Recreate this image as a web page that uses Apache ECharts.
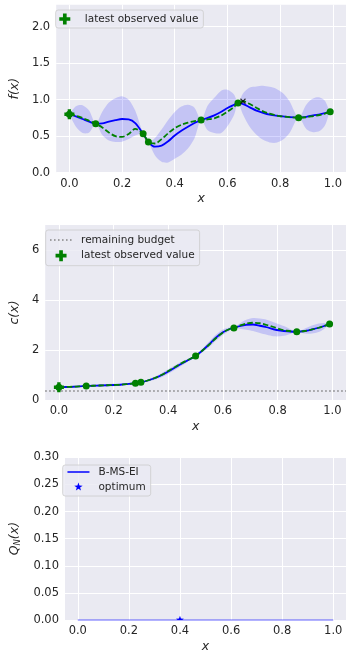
<!DOCTYPE html>
<html>
<head>
<meta charset="utf-8">
<script src="https://cdn.jsdelivr.net/npm/echarts@6/dist/echarts.min.js"></script>
<style>
html,body{margin:0;padding:0;background:#fff;}
#c{width:346px;height:654px;}
</style>
</head>
<body>
<div id="c"></div>
<script>
// ---- data ----
const xs = [0, 0.025, 0.05, 0.075, 0.1, 0.125, 0.15, 0.175, 0.2, 0.225, 0.25, 0.28, 0.3, 0.325, 0.35, 0.375, 0.4, 0.425, 0.45, 0.475, 0.5, 0.525, 0.55, 0.575, 0.6, 0.625, 0.64, 0.66, 0.685, 0.71, 0.735, 0.76, 0.785, 0.81, 0.835, 0.87, 0.9, 0.925, 0.95, 0.97, 0.99, 1.0];

const fMean  = [0.80, 0.77, 0.735, 0.70, 0.67, 0.675, 0.70, 0.72, 0.735, 0.73, 0.68, 0.534, 0.42, 0.356, 0.37, 0.43, 0.51, 0.575, 0.63, 0.68, 0.72, 0.75, 0.785, 0.83, 0.885, 0.93, 0.955, 0.94, 0.895, 0.85, 0.82, 0.795, 0.78, 0.77, 0.76, 0.754, 0.765, 0.785, 0.80, 0.815, 0.836, 0.84];
const fTrue  = [0.80, 0.78, 0.75, 0.71, 0.67, 0.62, 0.55, 0.50, 0.49, 0.53, 0.60, 0.534, 0.42, 0.40, 0.46, 0.54, 0.61, 0.655, 0.685, 0.705, 0.72, 0.73, 0.745, 0.78, 0.836, 0.90, 0.955, 0.978, 0.94, 0.89, 0.84, 0.81, 0.785, 0.77, 0.76, 0.754, 0.76, 0.775, 0.79, 0.81, 0.836, 0.845];
const fLower = [0.80, 0.63, 0.545, 0.55, 0.67, 0.515, 0.44, 0.42, 0.425, 0.46, 0.51, 0.534, 0.42, 0.236, 0.15, 0.14, 0.19, 0.245, 0.33, 0.47, 0.72, 0.58, 0.545, 0.54, 0.635, 0.79, 0.955, 0.79, 0.625, 0.52, 0.45, 0.415, 0.41, 0.45, 0.54, 0.754, 0.595, 0.555, 0.57, 0.645, 0.836, 0.80];
const fUpper = [0.80, 0.91, 0.925, 0.85, 0.67, 0.835, 0.96, 1.02, 1.045, 1.00, 0.85, 0.534, 0.42, 0.476, 0.59, 0.72, 0.83, 0.905, 0.93, 0.89, 0.72, 0.92, 1.025, 1.12, 1.135, 1.07, 0.955, 1.09, 1.165, 1.18, 1.19, 1.175, 1.15, 1.09, 0.98, 0.754, 0.935, 1.015, 1.03, 0.985, 0.836, 0.88];

const cMean  = [0.51, 0.52, 0.53, 0.545, 0.56, 0.57, 0.58, 0.59, 0.60, 0.61, 0.635, 0.67, 0.71, 0.78, 0.87, 0.99, 1.14, 1.30, 1.46, 1.61, 1.76, 1.98, 2.23, 2.50, 2.71, 2.84, 2.88, 2.95, 3.01, 3.02, 2.97, 2.91, 2.83, 2.78, 2.75, 2.73, 2.76, 2.82, 2.89, 2.96, 3.04, 3.07];
const cTrue  = [0.51, 0.52, 0.53, 0.545, 0.56, 0.57, 0.58, 0.59, 0.60, 0.61, 0.635, 0.67, 0.71, 0.78, 0.88, 1.00, 1.16, 1.32, 1.48, 1.62, 1.76, 1.98, 2.22, 2.48, 2.70, 2.84, 2.88, 2.97, 3.06, 3.09, 3.07, 3.00, 2.92, 2.83, 2.77, 2.73, 2.76, 2.82, 2.89, 2.96, 3.04, 3.07];
const cLower = [0.51, 0.50, 0.50, 0.525, 0.56, 0.55, 0.54, 0.54, 0.55, 0.57, 0.605, 0.67, 0.71, 0.74, 0.81, 0.91, 1.05, 1.21, 1.38, 1.56, 1.76, 1.91, 2.12, 2.38, 2.60, 2.78, 2.88, 2.85, 2.81, 2.76, 2.68, 2.61, 2.55, 2.55, 2.60, 2.73, 2.66, 2.66, 2.72, 2.84, 3.04, 3.04];
const cUpper = [0.51, 0.54, 0.56, 0.565, 0.56, 0.59, 0.62, 0.64, 0.65, 0.65, 0.665, 0.67, 0.71, 0.82, 0.93, 1.07, 1.23, 1.39, 1.54, 1.66, 1.76, 2.05, 2.34, 2.62, 2.82, 2.90, 2.88, 3.05, 3.21, 3.28, 3.26, 3.21, 3.11, 3.01, 2.90, 2.73, 2.86, 2.98, 3.06, 3.08, 3.04, 3.10];

const obsX = [0.0, 0.1, 0.28, 0.30, 0.5, 0.64, 0.87, 0.99];
const obsF = [0.80, 0.67, 0.534, 0.42, 0.72, 0.955, 0.754, 0.836];
const obsC = [0.51, 0.56, 0.67, 0.71, 1.76, 2.88, 2.73, 3.04];

const latestX = [0.0];
const latestF = [0.80];
const latestC = [0.51];

const fOptX = [0.659];
const fOptY = [0.978];

const budget = 0.38;

const qX = [0, 0.1, 0.2, 0.3, 0.4, 0.5, 0.6, 0.7, 0.8, 0.9, 1.0];
const qY = [0, 0, 0, 0, 0, 0, 0, 0, 0, 0, 0];
const qOptX = [0.4];
const qOptY = [0];

const xTicks = [0, 0.2, 0.4, 0.6, 0.8, 1.0];
const fTicks = [0, 0.5, 1.0, 1.5, 2.0];
const cTicks = [0, 2, 4, 6];
const qTicks = [0, 0.05, 0.10, 0.15, 0.20, 0.25, 0.30];

// ---- drawing ----
const FONT = 'DejaVu Sans';
const TXT = '#262626';
const BG = '#EAEAF2';
const GREEN = '#008000';
const zip = (a, b) => a.map((v, i) => [v, b[i]]);
const PLUS = 'path://M1,0H2V1H3V2H2V3H1V2H0V1H1Z';
const STAR_LEGEND = 'path://M-12.5,-12.5M12.5,12.5M0,-10L2.35,-3.24L9.51,-3.09L3.8,1.24L5.88,8.09L0,4L-5.88,8.09L-3.8,1.24L-9.51,-3.09L-2.35,-3.24Z';

function xAxis(gi) {
  return {
    type: 'value', gridIndex: gi, min: -0.05, max: 1.05,
    axisLine: { show: false },
    axisTick: { show: false, customValues: xTicks },
    axisLabel: { customValues: xTicks, formatter: v => v.toFixed(1), color: TXT, fontSize: 11.5, fontFamily: FONT, margin: 5 },
    splitLine: { show: true, lineStyle: { color: '#ffffff', width: 1 } },
    name: 'x', nameLocation: 'middle', nameGap: 20,
    nameTextStyle: { color: TXT, fontSize: 12.5, fontFamily: FONT, fontStyle: 'italic' }
  };
}
function yAxis(gi, max, ticks, digits, name, gap, rich) {
  const o = {
    type: 'value', gridIndex: gi, min: 0, max: max,
    axisLine: { show: false },
    axisTick: { show: false, customValues: ticks },
    axisLabel: { customValues: ticks, formatter: v => v.toFixed(digits), color: TXT, fontSize: 11.5, fontFamily: FONT, margin: 6 },
    splitLine: { show: true, lineStyle: { color: '#ffffff', width: 1 } },
    name: name, nameLocation: 'middle', nameGap: gap,
    nameTextStyle: { color: TXT, fontSize: 12.5, fontFamily: FONT, fontStyle: 'italic' }
  };
  if (rich) o.nameTextStyle.rich = rich;
  return o;
}
function legend(left, top, padding, gap, names) {
  return {
    left: left, top: top, orient: 'vertical', padding: padding, itemGap: gap,
    itemWidth: 22, itemHeight: 11,
    backgroundColor: 'rgba(234,234,242,0.8)', borderColor: '#cccccc', borderWidth: 0.8, borderRadius: 2.5,
    textStyle: { color: TXT, fontSize: 10.5, fontFamily: FONT, padding: [0, 0, 0, 4], lineHeight: 12 },
    selectedMode: false,
    data: names
  };
}
// smooth open curve through pixel points, written as SVG path commands
function curvePath(pts, s, move) {
  const n = pts.length;
  const f = p => p[0].toFixed(2) + ',' + p[1].toFixed(2);
  const ctrl = (i, after) => {
    if (i === 0 || i === n - 1) return pts[i];
    const p = pts[i], a = pts[i - 1], b = pts[i + 1];
    const vx = b[0] - a[0], vy = b[1] - a[1];
    const l1 = Math.hypot(p[0] - a[0], p[1] - a[1]);
    const l2 = Math.hypot(b[0] - p[0], b[1] - p[1]);
    const t = (after ? l2 : l1) / (l1 + l2 || 1);
    const sg = after ? 1 : -1;
    return [p[0] + sg * vx * s * t, p[1] + sg * vy * s * t];
  };
  let d = (move ? 'M' : 'L') + f(pts[0]);
  for (let i = 0; i < n - 1; i++) {
    d += 'C' + f(ctrl(i, true)) + ' ' + f(ctrl(i + 1, false)) + ' ' + f(pts[i + 1]);
  }
  return d;
}
function band(gi, lower, upper) {
  return {
    type: 'custom', xAxisIndex: gi, yAxisIndex: gi, clip: true, silent: true, z: 1,
    data: xs.map((x, i) => [x, lower[i], upper[i]]),
    renderItem: function (params, api) {
      if (params.dataIndex !== 0) return null;
      const top = xs.map((x, i) => api.coord([x, upper[i]]));
      const bot = xs.map((x, i) => api.coord([x, lower[i]])).reverse();
      const d = curvePath(top, 0.3, true) + curvePath(bot, 0.3, false) + 'Z';
      return { type: 'path', shape: { pathData: d }, style: { fill: 'rgba(0,0,255,0.16)' } };
    }
  };
}
function curves(gi, mean, truth, obsY, latestY) {
  return [
    { type: 'line', xAxisIndex: gi, yAxisIndex: gi, name: 'mean' + gi, data: zip(xs, mean), symbol: 'none', smooth: 0.3,
      lineStyle: { color: '#0000ff', width: 1.8 }, z: 3 },
    { type: 'line', xAxisIndex: gi, yAxisIndex: gi, name: 'true' + gi, data: zip(xs, truth), symbol: 'none', smooth: 0.3,
      lineStyle: { color: GREEN, width: 1.8, type: [5.5, 2.4] }, z: 4 },
    { type: 'scatter', xAxisIndex: gi, yAxisIndex: gi, name: 'obs' + gi, data: zip(obsX, obsY), symbol: 'circle', symbolSize: 7,
      itemStyle: { color: GREEN, opacity: 1 }, z: 5 },
    { type: 'scatter', xAxisIndex: gi, yAxisIndex: gi, name: 'latest observed value', data: zip(latestX, latestY), symbol: PLUS, symbolSize: 10,
      itemStyle: { color: GREEN, opacity: 1 }, z: 6 }
  ];
}

const series = [].concat(
  [band(0, fLower, fUpper)],
  curves(0, fMean, fTrue, obsF, latestF),
  [{ type: 'scatter', xAxisIndex: 0, yAxisIndex: 0, name: 'fopt', data: zip(fOptX, fOptY), symbol: 'path://M0,0L10,10M10,0L0,10', symbolSize: 5,
     itemStyle: { color: 'transparent', borderColor: '#000000', borderWidth: 1.1 }, z: 7 }],
  [band(1, cLower, cUpper)],
  curves(1, cMean, cTrue, obsC, latestC),
  [{ type: 'line', xAxisIndex: 1, yAxisIndex: 1, name: 'remaining budget', data: [], symbol: 'none',
     itemStyle: { color: '#808080' },
     lineStyle: { color: '#808080', width: 1.5, type: [1.5, 2.5] },
     markLine: { silent: true, symbol: 'none', label: { show: false },
       lineStyle: { color: '#808080', width: 1.5, type: [1.5, 2.5] }, data: [{ yAxis: budget }] }, z: 2 }],
  [{ type: 'line', xAxisIndex: 2, yAxisIndex: 2, name: 'B-MS-EI', data: zip(qX, qY), symbol: 'none',
     itemStyle: { color: '#0000ff' },
     lineStyle: { color: 'rgba(0,0,255,0.3)', width: 2 }, z: 3 },
   { type: 'custom', xAxisIndex: 2, yAxisIndex: 2, name: 'optimum', clip: true, data: zip(qOptX, qOptY), z: 4,
     renderItem: function (params, api) {
       const p = api.coord([api.value(0), api.value(1)]);
       const R = 4.2, r = 1.7, pts = [];
       for (let k = 0; k < 10; k++) {
         const a = -Math.PI / 2 + k * Math.PI / 5;
         const rad = k % 2 === 0 ? R : r;
         pts.push([p[0] + rad * Math.cos(a), p[1] + rad * Math.sin(a)]);
       }
       return { type: 'polygon', shape: { points: pts }, style: { fill: '#0000ff' } };
     } }]
);

const option = {
  animation: false,
  backgroundColor: '#ffffff',
  textStyle: { fontFamily: FONT },
  grid: [
    { left: 50.5, right: -1.8, top: 4.7, bottom: 654 - 172.7, show: true, backgroundColor: BG, borderWidth: 0 },
    { left: 40, right: -2, top: 225, bottom: 654 - 400, show: true, backgroundColor: BG, borderWidth: 0 },
    { left: 57.1, right: -2, top: 457.3, bottom: 654 - 622.3, show: true, backgroundColor: BG, borderWidth: 0 }
  ],
  xAxis: [xAxis(0), xAxis(1), xAxis(2)],
  yAxis: [
    yAxis(0, 2.3, fTicks, 1, 'f(x)', 25),
    yAxis(1, 7, cTicks, 0, 'c(x)', 16),
    yAxis(2, 0.3, qTicks, 2, '{a|Q}{b|N}{a|(x)}', 34, {
      a: { fontSize: 12.5, fontStyle: 'italic', fontFamily: FONT, color: TXT, lineHeight: 16 },
      b: { fontSize: 8.5, fontStyle: 'italic', fontFamily: FONT, color: TXT, lineHeight: 16, verticalAlign: 'bottom', padding: [0, 0, 0, 0] }
    })
  ],
  legend: [
    legend(55.7, 10, [3, 5, 3, 3.6], 4, [{ name: 'latest observed value', itemStyle: { color: GREEN, opacity: 1 } }]),
    legend(45.7, 230, [4, 5, 4, 3.6], 3.7, [
      { name: 'remaining budget', itemStyle: { opacity: 0 }, lineStyle: { color: '#808080', width: 1.5, type: [1.5, 2.5] } },
      { name: 'latest observed value', itemStyle: { color: GREEN, opacity: 1 } }]),
    legend(62.7, 465, [1, 5, 3, 4], 3, [
      { name: 'B-MS-EI', itemStyle: { opacity: 0 }, lineStyle: { color: '#0000ff', width: 1.5, opacity: 1 } },
      { name: 'optimum', icon: STAR_LEGEND, itemStyle: { color: '#0000ff' } }])
  ],
  series: series
};

const chart = echarts.init(document.getElementById('c'), null, { renderer: 'canvas' });
chart.setOption(option);
</script>
</body>
</html>
